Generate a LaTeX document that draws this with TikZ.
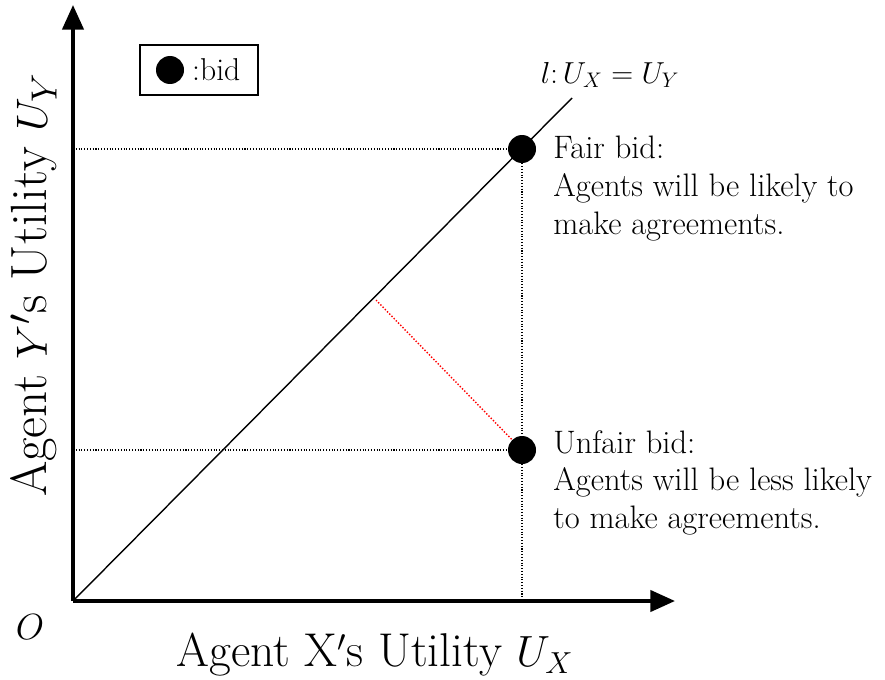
\documentclass[tikz,border=0pt]{standalone}
\usetikzlibrary{arrows.meta}
\begin{document}
\begin{tikzpicture}[x=0.02cm,y=-0.02cm,>={Triangle[length=14pt,width=12pt]},
	bid/.style={circle,fill=black,inner sep=0pt,minimum size=28*0.02cm},
	note/.style={anchor=north west,align=left,font=\fontsize{18.5}{21.5}\selectfont,inner sep=0pt},
	guide/.style={densely dotted,semithick}]
	\useasboundingbox (0,0) rectangle (885,679);

	% axes
	\coordinate (O) at (73,601);
	\draw[->,line width=2.2pt] (O) -- (73,5);
	\draw[->,line width=2.2pt] (O) -- (675,601);
	\node at (30,627) {\fontsize{22}{26}\selectfont$O$};
	\node at (375,655) {\fontsize{27}{31}\selectfont Agent X$'$s Utility $U_X$};
	\node[rotate=90,inner sep=0pt] at (34,285) {\fontsize{29}{33}\selectfont Agent $Y'$s Utility $U_Y$};

	% line l
	\coordinate (lend) at (572,98);
	\draw[thick] (O) -- (lend);
	\node at (610,75) {\fontsize{17}{20}\selectfont$l\colon U_X = U_Y$};

	% bids
	\node[bid] (fair) at (522,149) {};
	\node[bid] (unfair) at (522,450) {};
	\coordinate (foot) at (376,300);
	\draw[guide] (73,149) -- (fair);
	\draw[guide] (73,450) -- (unfair);
	\draw[guide] (fair) -- (522,601);
	\draw[guide,red,thick] (foot) -- (unfair);

	\node[note] (fairtxt) at (553,136) {Fair bid:\\Agents will be likely to\\make agreements.};
	\node[note] (unfairtxt) at (553,430) {Unfair bid:\\Agents will be less likely\\to make agreements.};

	% legend
	\draw[thick] (140,45) rectangle (258,95);
	\node[bid] (leg) at (170,70) {};
	\node[anchor=west,font=\fontsize{18}{21}\selectfont] (legtxt) at (186,70) {:bid};
\end{tikzpicture}
\end{document}
